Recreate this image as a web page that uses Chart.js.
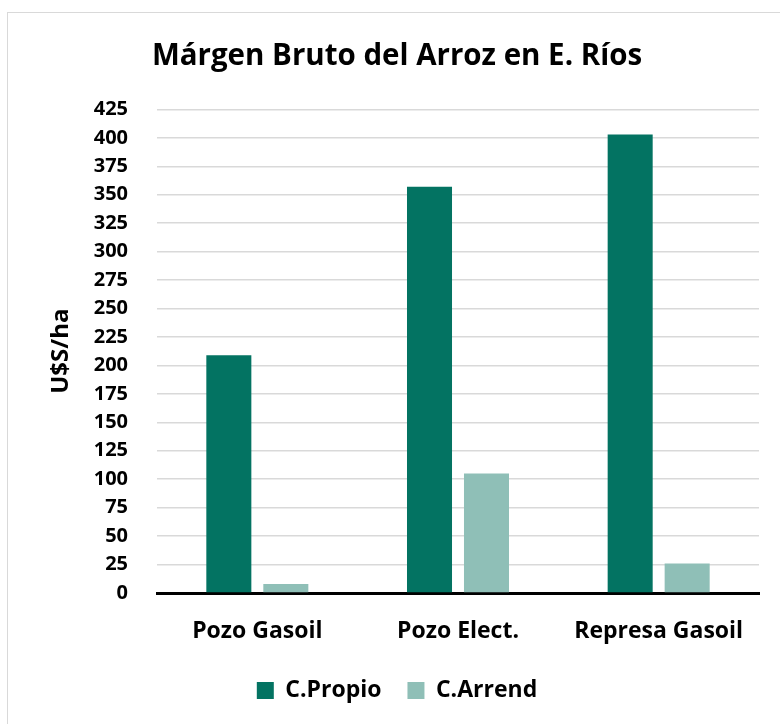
<!DOCTYPE html>
<html><head><meta charset="utf-8">
<script src="https://cdn.jsdelivr.net/npm/chart.js@4/dist/chart.umd.min.js"></script>
<style>
html,body{margin:0;padding:0;background:#fff;}
#frame{position:absolute;left:7px;top:12px;width:800px;height:800px;border:1px solid #d9d9d9;box-sizing:border-box;}
#wrap{position:absolute;left:0;top:0;width:780px;height:724px;}
</style></head><body>
<div id="frame"></div>
<div id="wrap"><canvas id="c" width="780" height="724"></canvas></div>
<script>
const categories = ["Pozo Gasoil", "Pozo Elect.", "Represa Gasoil"];
const seriesNames = ["C.Propio", "C.Arrend"];
const propio = [209, 357, 403];
const arrend = [8, 105, 26];
const yTicks = [0,25,50,75,100,125,150,175,200,225,250,275,300,325,350,375,400,425];
const FONT = "'Open Sans', 'Liberation Sans', sans-serif";

new Chart(document.getElementById('c'), {
  type: 'bar',
  data: {
    labels: categories,
    datasets: [
      {label: seriesNames[0], data: propio, backgroundColor: '#037362', categoryPercentage: 0.568, barPercentage: 0.79},
      {label: seriesNames[1], data: arrend, backgroundColor: '#8fbfb7', categoryPercentage: 0.568, barPercentage: 0.79}
    ]
  },
  options: {
    responsive: false,
    animation: false,
    layout: {padding: {left: 35, right: 21, top: 39, bottom: 12}},
    plugins: {
      title: {display: true, text: 'Márgen Bruto del Arroz en E. Ríos', color: '#000',
        font: {family: FONT, size: 29.5, weight: 'bold'}, padding: {top: 0, bottom: 35}},
      legend: {position: 'bottom', labels: {color: '#000', boxWidth: 17, boxHeight: 17, padding: 26,
        font: {family: FONT, size: 23, weight: 'bold'}}},
      tooltip: {enabled: false}
    },
    scales: {
      x: {
        afterFit: (s) => { s.height = 60; },
        grid: {display: false, drawTicks: false},
        border: {display: true, color: '#000', width: 3},
        ticks: {color: '#000', padding: 25, font: {family: FONT, size: 23, weight: 'bold'}}
      },
      y: {
        min: 0, max: 425,
        afterFit: (s) => { s.width = 122; },
        afterBuildTicks: (s) => { s.ticks = yTicks.map(v => ({value: v})); },
        grid: {color: '#d9d9d9', lineWidth: 1.5, drawTicks: false},
        border: {display: false},
        ticks: {color: '#000', padding: 29, font: {family: FONT, size: 20, weight: 'bold'}},
        title: {display: true, text: 'U$S/ha', color: '#000', padding: {top: 12, bottom: 18},
          font: {family: FONT, size: 24, weight: 'bold'}}
      }
    }
  }
});
</script>
</body></html>
